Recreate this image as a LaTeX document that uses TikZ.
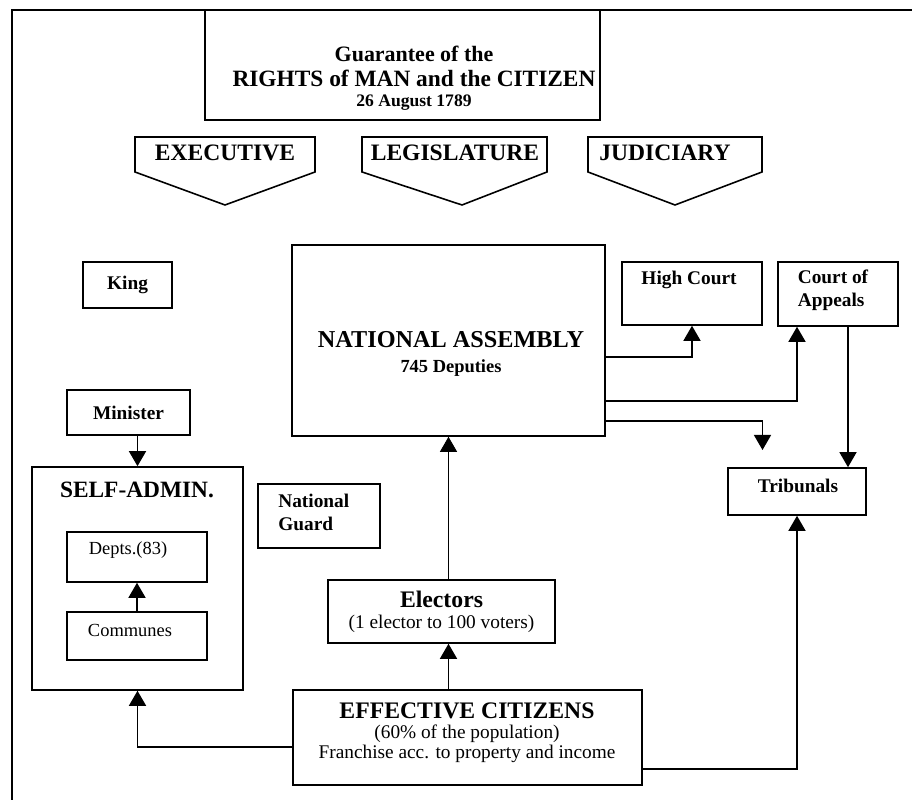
\documentclass[tikz,border=0pt]{standalone}
\usepackage{fontspec}
\setmainfont{Liberation Serif}
\usetikzlibrary{arrows.meta}

\begin{document}
\begin{tikzpicture}[
    >={Triangle[width=0.34cm,length=0.3cm]},
    box/.style={draw, line width=0.9pt, inner sep=0pt},
    line/.style={line width=0.8pt},
    bigfont/.style={font=\bfseries\fontsize{13.4}{15}\selectfont},
    smallbold/.style={font=\bfseries\fontsize{11}{13}\selectfont},
    plain/.style={font=\fontsize{10.5}{12.5}\selectfont}
  ]
    \useasboundingbox (0,0) rectangle (18.24,16);
    \draw[line width=1pt] (0.24,0) -- (0.24,15.8) -- (18.24,15.8);

    % title and the three powers
    \node[box, minimum width=7.9cm, minimum height=2.2cm] (title) at (8.05,14.7) {};
    \node[align=center, font=\bfseries\fontsize{12.5}{14}\selectfont] (titletxt) at (8.28,14.43) {Guarantee of the\\{\fontsize{13.3}{14}\selectfont RIGHTS of MAN and the CITIZEN}\\[-2.5pt]{\fontsize{10}{12}\selectfont 26 August 1789}};

    \draw[line width=0.9pt] (2.7,13.26) -- (6.3,13.26) -- (6.3,12.56) -- (4.5,11.9) -- (2.7,12.56) -- cycle;
    \node[bigfont] (exec) at (4.5,12.94) {EXECUTIVE};
    \draw[line width=0.9pt] (7.24,13.26) -- (10.94,13.26) -- (10.94,12.56) -- (9.24,11.9) -- (7.24,12.56) -- cycle;
    \node[bigfont] (legis) at (9.1,12.94) {LEGISLATURE};
    \draw[line width=0.9pt] (11.76,13.26) -- (15.24,13.26) -- (15.24,12.56) -- (13.5,11.9) -- (11.76,12.56) -- cycle;
    \node[bigfont] (judic) at (13.3,12.94) {JUDICIARY};

    % executive side
    \node[box, smallbold, minimum width=1.78cm, minimum height=0.92cm] (king) at (2.55,10.3) {King};
    \node[box, smallbold, minimum width=2.46cm, minimum height=0.9cm] (min) at (2.57,7.75) {Minister};
    \node[box, minimum width=4.22cm, minimum height=4.46cm] (sa) at (2.75,4.43) {};
    \node[font=\bfseries\fontsize{13.3}{15}\selectfont] (satxt) at (2.74,6.2) {SELF-ADMIN.};
    \node[box, minimum width=2.8cm, minimum height=1cm] (depts) at (2.74,4.86) {};
    \node[plain] (deptstxt) at (2.56,5.0) {Depts.(83)};
    \node[box, minimum width=2.8cm, minimum height=0.96cm] (comm) at (2.74,3.28) {};
    \node[plain] (commtxt) at (2.6,3.4) {Communes};
    \draw[->, line] (min.south -| sa.north) -- (sa.north);
    \draw[->, line] (comm) -- (depts);

    \node[box, minimum width=2.44cm, minimum height=1.28cm] (guard) at (6.38,5.68) {};
    \node[smallbold, align=left, anchor=west, inner sep=0pt] (guardtxt) at (5.56,5.76) {National\\Guard};

    % legislature
    \node[box, minimum width=6.26cm, minimum height=3.82cm] (na) at (8.97,9.19) {};
    \node[align=center, font=\bfseries\fontsize{13.8}{14}\selectfont] (natxt) at (9.02,8.92) {NATIONAL ASSEMBLY\\{\fontsize{10.5}{12}\selectfont 745 Deputies}};

    % judiciary
    \node[box, minimum width=2.8cm, minimum height=1.26cm] (hc) at (13.84,10.13) {};
    \node[smallbold] (hctxt) at (13.78,10.4) {High Court};
    \node[box, minimum width=2.4cm, minimum height=1.28cm] (ca) at (16.76,10.12) {};
    \node[smallbold, align=left, anchor=west, inner sep=0pt] (catxt) at (15.95,10.2) {Court of\\Appeals};
    \node[box, minimum width=2.76cm, minimum height=0.94cm] (trib) at (15.94,6.17) {};
    \node[smallbold] (tribtxt) at (15.96,6.28) {Tribunals};
    \coordinate (tribend) at (15.25,7.0);

    \draw[->, line] ([yshift=-0.33cm]na.east) -| (hc.south);
    \draw[->, line] ([yshift=-1.21cm]na.east) -| ([xshift=-0.82cm]ca.south);
    \draw[->, line] ([yshift=-1.61cm]na.east) -| (tribend);
    \draw[->, line] ([xshift=0.2cm]ca.south) -- ([xshift=0.2cm]ca.south |- trib.north);

    % citizens
    \node[box, align=center, minimum width=4.54cm, minimum height=1.26cm] (elec) at (8.83,3.77) {{\bfseries\fontsize{13.5}{13}\selectfont Electors}\\{\fontsize{11}{12}\selectfont (1 elector to 100 voters)}};
    \node[box, minimum width=6.98cm, minimum height=1.9cm] (ec) at (9.35,1.25) {};
    \node[align=center, font=\fontsize{11}{11.5}\selectfont] (ectxt) at (9.34,1.34) {{\bfseries\fontsize{13.5}{13}\selectfont EFFECTIVE CITIZENS}\\(60\% of the population)\\Franchise acc. to property and income};

    \draw[->, line width=0.5pt] (elec.north -| na.south) -- (na.south);
    \draw[->, line] (ec.north -| na.south) -- (elec.south -| na.south);
    \draw[->, line] ([yshift=-0.19cm]ec.west) -| (sa.south);
    \draw[->, line] ([yshift=-0.63cm]ec.east) -| (trib.south);
\end{tikzpicture}
\end{document}
